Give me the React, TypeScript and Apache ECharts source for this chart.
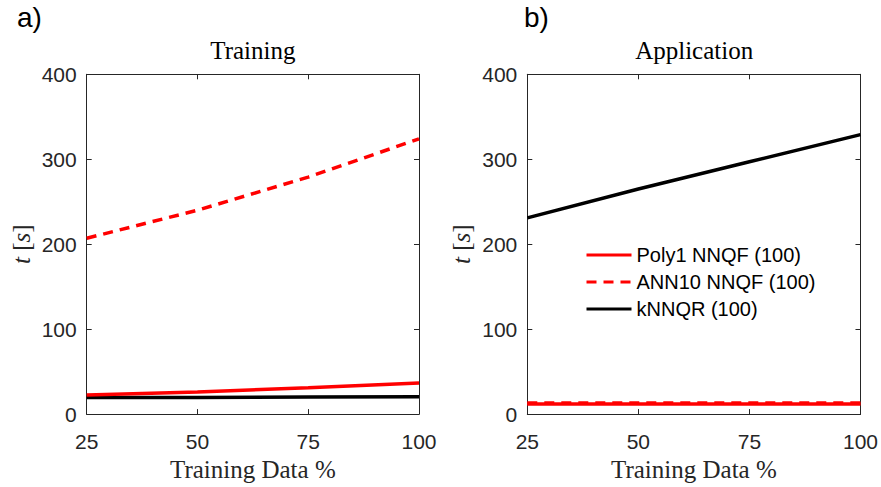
import React, { useEffect, useRef } from "react";
import * as echarts from "echarts";

const xValues = [25, 50, 75, 100];
const trainPoly1 = [22.5, 26, 31, 36.5];
const trainANN10 = [207, 240, 279, 324];
const trainKNNQR = [19.5, 19.5, 20, 20.5];
const appPoly1 = [12, 12, 12, 12];
const appANN10 = [13, 13, 13, 13];
const appKNNQR = [231, 265, 297, 329];
const panelTitles = ["Training", "Application"];
const panelLabels = ["a)", "b)"];
const seriesNames = ["Poly1 NNQF (100)", "ANN10 NNQF (100)", "kNNQR (100)"];
const xLabel = "Training Data %";

const AX = "#262626";
const SANS = "Liberation Sans, Arial, sans-serif";
const SERIF = "Liberation Serif, Times New Roman, serif";

const pairs = (ys: number[]) => xValues.map((x, i) => [x, ys[i]]);

export default function App() {
  const ref = useRef<HTMLDivElement>(null);
  useEffect(() => {
    if (!ref.current) return;
    const chart = echarts.init(ref.current, null, { renderer: "svg" });
    const grids = [
      { left: 86.7, width: 332.3, top: 74.3, height: 340 },
      { left: 527.3, width: 333.7, top: 74.3, height: 340 },
    ];
    const xAxes: any[] = [];
    const yAxes: any[] = [];
    grids.forEach((_, gi) => {
      const common = {
        type: "value",
        gridIndex: gi,
        min: 25,
        max: 100,
        interval: 25,
        axisLine: { show: true, onZero: false, lineStyle: { color: AX, width: 1 } },
        axisTick: { show: true, inside: true, length: 5, lineStyle: { color: AX } },
        splitLine: { show: false },
      };
      xAxes.push({
        ...common,
        position: "bottom",
        name: xLabel,
        nameLocation: "middle",
        nameGap: 40,
        nameTextStyle: { fontFamily: SERIF, fontSize: 25, color: AX },
        axisLabel: { fontFamily: SANS, fontSize: 21, color: AX, margin: 17 },
      });
      xAxes.push({ ...common, position: "top", axisLabel: { show: false } });
      const ycommon = {
        type: "value",
        gridIndex: gi,
        min: 0,
        max: 400,
        interval: 100,
        axisLine: { show: true, onZero: false, lineStyle: { color: AX, width: 1 } },
        axisTick: { show: true, inside: true, length: 5, lineStyle: { color: AX } },
        splitLine: { show: false },
      };
      yAxes.push({
        ...ycommon,
        position: "left",
        name: "{i|t} [{i|s}]",
        nameLocation: "middle",
        nameGap: 53,
        nameRotate: 90,
        nameTextStyle: {
          fontFamily: SERIF,
          fontSize: 25,
          color: AX,
          rich: { i: { fontFamily: SERIF, fontSize: 25, fontStyle: "italic", color: AX } },
        },
        axisLabel: { fontFamily: SANS, fontSize: 21, color: AX, margin: 10 },
      });
      yAxes.push({ ...ycommon, position: "right", axisLabel: { show: false } });
    });

    const mk = (name: string, ys: number[], gi: number, color: string, dashed: boolean) => ({
      type: "line",
      name,
      xAxisIndex: gi * 2,
      yAxisIndex: gi * 2,
      data: pairs(ys),
      symbol: "none",
      showSymbol: false,
      lineStyle: { color, width: 3.5, type: dashed ? [10, 7] : "solid" },
      itemStyle: { color },
    });

    chart.setOption({
      animation: false,
      grid: grids,
      xAxis: xAxes,
      yAxis: yAxes,
      legend: {
        orient: "vertical",
        left: 585,
        top: 245,
        itemWidth: 45,
        itemHeight: 20,
        itemGap: 7,
        padding: 0,
        data: seriesNames,
        itemStyle: { opacity: 0 },
        lineStyle: { width: 3 },
        textStyle: { fontFamily: SANS, fontSize: 20, color: "#000" },
      },
      graphic: [
        ...panelTitles.map((t, i) => ({
          type: "text",
          x: grids[i].left + grids[i].width / 2,
          y: 63,
          style: { text: t, font: `25px ${SERIF}`, fill: "#000", textAlign: "center", textVerticalAlign: "bottom" },
        })),
        ...panelLabels.map((t, i) => ({
          type: "text",
          x: i === 0 ? 17 : 524,
          y: 3,
          style: { text: t, font: `28px ${SANS}`, fill: "#000", textAlign: "left", textVerticalAlign: "top" },
        })),
      ],
      series: [
        mk(seriesNames[2], trainKNNQR, 0, "#000000", false),
        mk(seriesNames[0], trainPoly1, 0, "#ff0000", false),
        mk(seriesNames[1], trainANN10, 0, "#ff0000", true),
        mk(seriesNames[2], appKNNQR, 1, "#000000", false),
        mk(seriesNames[0], appPoly1, 1, "#ff0000", false),
        mk(seriesNames[1], appANN10, 1, "#ff0000", true),
      ],
    });
    return () => chart.dispose();
  }, []);
  return (
    <div
      ref={ref}
      style={{ position: "fixed", left: 0, top: 0, width: 881, height: 487, background: "#fff" }}
    />
  );
}
